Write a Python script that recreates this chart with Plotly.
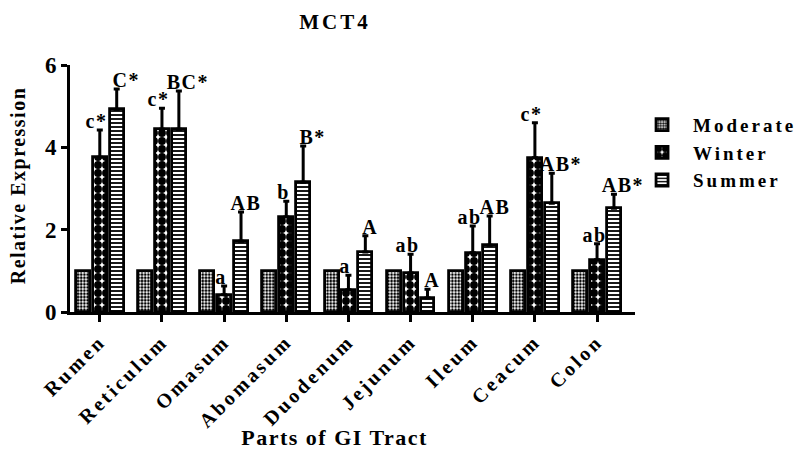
import plotly.graph_objects as go

categories = ["Rumen", "Reticulum", "Omasum", "Abomasum", "Duodenum",
              "Jejunum", "Ileum", "Ceacum", "Colon"]
moderate = [1, 1, 1, 1, 1, 1, 1, 1, 1]
moderate_err = [0, 0, 0, 0, 0, 0, 0, 0, 0]
winter = [3.76, 4.44, 0.42, 2.31, 0.54, 0.95, 1.44, 3.75, 1.27]
winter_err = [0.66, 0.51, 0.21, 0.38, 0.35, 0.45, 0.65, 0.85, 0.39]
summer = [4.92, 4.44, 1.72, 3.15, 1.46, 0.34, 1.62, 2.64, 2.52]
summer_err = [0.50, 0.93, 0.71, 0.88, 0.39, 0.21, 0.71, 0.73, 0.34]
winter_labels = ["c*", "c*", "a", "b", "a", "ab", "ab", "c*", "ab"]
summer_labels = ["C*", "BC*", "AB", "B*", "A", "A", "AB", "AB*", "AB*"]

FONT = "Liberation Serif"
xs = list(range(len(categories)))
W = 0.225
offsets = {"Moderate": -0.385, "Winter": -0.113, "Summer": 0.159}

fig = go.Figure()
series = [
    ("Moderate", moderate, moderate_err, dict(shape=".", size=3.2, solidity=0.55)),
    ("Winter", winter, winter_err, dict(shape=".", size=8, solidity=0.75)),
    ("Summer", summer, summer_err, dict(shape="-", size=4, solidity=0.45)),
]
for name, vals, errs, pat in series:
    fig.add_trace(go.Bar(
        name=name, x=xs, y=vals, width=W, offset=offsets[name],
        marker=dict(color="white", line=dict(color="black", width=2.8),
                    pattern=dict(fgcolor="black", bgcolor="white", fillmode="replace", **pat)),
        error_y=dict(type="data", array=errs, arrayminus=[0] * len(errs), symmetric=False,
                     color="black", thickness=3, width=3, visible=any(e > 0 for e in errs)),
    ))

annotations = []
for i in xs:
    for vals, errs, labels, name, base_shift, star_shift in [
            (winter, winter_err, winter_labels, "Winter", -3, 0),
            (summer, summer_err, summer_labels, "Summer", 5, 4)]:
        cx = i + offsets[name] + W / 2
        annotations.append(dict(
            x=cx, y=vals[i] + errs[i], xref="x", yref="y", text=labels[i],
            showarrow=False, yanchor="bottom", xanchor="center", yshift=-4,
            xshift=base_shift + (star_shift if "*" in labels[i] else 0),
            font=dict(family=FONT, size=20, color="black", weight="bold")))

annotations.append(dict(text="Parts of GI Tract", x=0.469, y=-0.508, xref="paper", yref="paper",
                        showarrow=False, xanchor="center", yanchor="middle",
                        font=dict(family=FONT, size=22, color="black", weight="bold")))
annotations.append(dict(text="Relative Expression", x=-0.092, y=0.51, xref="paper", yref="paper",
                        showarrow=False, xanchor="center", yanchor="middle", textangle=-90,
                        font=dict(family=FONT, size=20, color="black", weight="bold")))

fig.update_layout(
    width=796, height=444,
    margin=dict(l=62, r=169, t=57, b=140, autoexpand=False),
    plot_bgcolor="white", paper_bgcolor="white",
    font=dict(family=FONT, color="black", size=17, weight="bold"),
    bargap=0, showlegend=True,
    title=dict(text="<b>MCT4</b>", x=327 / 796, xanchor="center", y=1 - 14 / 444, yanchor="middle",
               font=dict(family=FONT, size=21, color="black")),
    legend=dict(x=0.993, y=0.835, xanchor="left", yanchor="top",
                font=dict(family=FONT, size=19, color="black", weight="bold"),
                bgcolor="rgba(0,0,0,0)", tracegroupgap=0, itemwidth=52),
    xaxis=dict(range=[-0.48, 8.61], tickmode="array", tickvals=xs, ticktext=categories,
               tickangle=-45, ticks="outside", ticklen=7, tickwidth=2.5, tickcolor="black",
               showline=True, linecolor="black", linewidth=2.8, showgrid=False, zeroline=False,
               tickfont=dict(family=FONT, size=20, color="black", weight="bold")),
    yaxis=dict(range=[0, 6], tickvals=[0, 2, 4, 6], ticks="outside", ticklen=6, tickwidth=2.5,
               tickcolor="black", showline=True, linecolor="black", linewidth=2.8,
               showgrid=False, zeroline=False,
               tickfont=dict(family=FONT, size=23, color="black", weight="bold")),
    annotations=annotations,
)

css = (".legendtext{letter-spacing:3px}"
       ".legend .scrollbox{clip-path:none !important}"
       ".xtick text{letter-spacing:3px}"
       ".gtitle{letter-spacing:3px}"
       ".annotation-text{letter-spacing:1.5px}")
post = "var s=document.createElement('style');s.innerHTML='" + css + "';document.head.appendChild(s);"
fig.write_html("out.html", post_script=post)
